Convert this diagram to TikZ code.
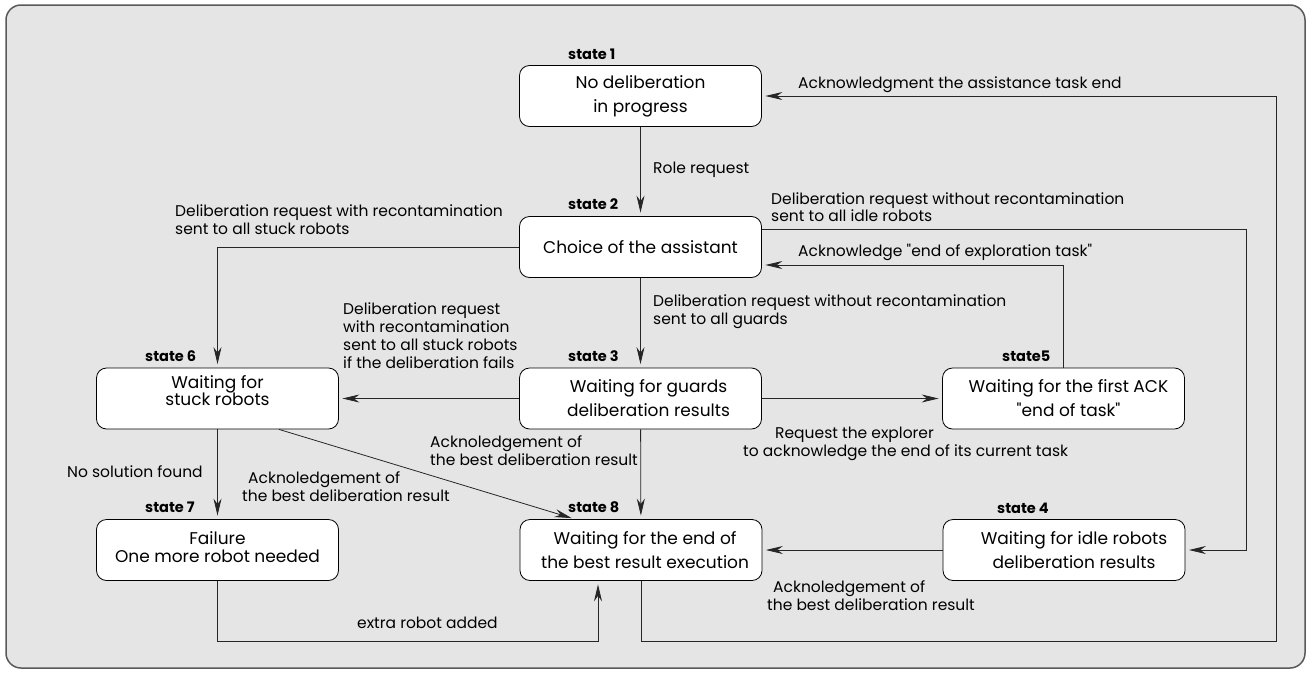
\documentclass[tikz,border=0pt]{standalone}
\usepackage{fontspec}
\setmainfont{Poppins}[Ligatures=TeXOff]
\usetikzlibrary{arrows.meta}
\newcommand{\myLbl}{\fontsize{15.5}{18}\selectfont}
\newcommand{\myLblTight}{\fontsize{15.5}{15}\selectfont}
\newcommand{\myBox}{\fontsize{17}{24}\selectfont}
\newcommand{\mySmallBox}{\fontsize{17}{17.5}\selectfont}
\newcommand{\myState}{\fontsize{14.5}{18}\selectfont\bfseries}
\tikzset{
  frame/.style={draw=black!65, line width=1.5pt, fill=black!10, rounded corners=15pt},
  stbox/.style={draw=black, fill=white, rounded corners=10pt, minimum width=242pt,
    minimum height=61pt, inner sep=0pt, align=center, line width=0.8pt, font=\myBox},
  lbl/.style={align=left, anchor=west, inner sep=0pt, font=\myLbl},
  stlbl/.style={anchor=west, inner sep=0pt, font=\myState},
  conn/.style={line width=0.8pt, draw=black!85},
  arr/.style={conn, -{Stealth[length=17pt,width=8pt]}, shorten >=3.5pt},
}
\begin{document}
\begin{tikzpicture}[x=1pt,y=-1pt]
\useasboundingbox (0,0) rectangle (1309,672);
\draw[frame] (6,5) rectangle (1305,668);

% states
\node[stbox] (s1) at (640.5,96) {No deliberation\\in progress};
\node[stbox] (s2) at (640.5,247) {Choice of the assistant};
\node[stbox] (s3) at (640.5,398.5) {\hspace*{16pt}Waiting for guards\\\hspace*{16pt}deliberation results};
\node[stbox] (s5) at (1063.5,398.5) {\hspace*{10pt}Waiting for the first ACK\\\hspace*{10pt}"end of task"};
\node[stbox, font=\mySmallBox, text depth=16pt] (s6) at (217.5,398.5) {Waiting for\\stuck robots};
\node[stbox, font=\mySmallBox, text depth=6pt] (s7) at (217.5,550) {Failure\\One more robot needed};
\node[stbox] (s8) at (641,550) {\hspace*{8pt}Waiting for the end of\\\hspace*{8pt}the best result execution};
\node[stbox] (s4) at (1064,550) {\hspace*{20pt}Waiting for idle robots\\\hspace*{20pt}deliberation results};

% state titles
\node[stlbl] (t1) at (568,54) {state 1};
\node[stlbl] (t2) at (568,204) {state 2};
\node[stlbl] (t3) at (568,356) {state 3};
\node[stlbl] (t8) at (568,507) {state 8};
\node[stlbl] (t6) at (145,356) {state 6};
\node[stlbl] (t7) at (145,507) {state 7};
\node[stlbl] (t5) at (1002,356) {state5};
\node[stlbl] (t4) at (997,508) {state 4};

% connectors
\draw[arr] (s1) -- (s2);
\draw[arr] (s2.west) -| (s6.north);
\draw[arr] ([yshift=18pt]s2.east) -- ++(484,0) |- (s4.east);
\draw[arr] (s5.north) |- ([yshift=-18pt]s2.east);
\draw[arr] (s2) -- (s3);
\draw[arr] (s3) -- (s6);
\draw[arr] (s3) -- (s5);
\draw[arr] (s3) -- (s8);
\draw[arr] ([xshift=61.5pt]s6.south) -- ([xshift=-66pt]s8.north);
\draw[arr] (s6) -- (s7);
\draw[arr] (s7.south) -- ++(0,60) -| ([xshift=-43pt]s8.south);
\draw[arr] (s8.south) -- ++(0,60) -- ++(635,0) |- (s1.east);
\draw[arr] (s4) -- (s8);

% connector labels
\node[lbl] (lrole) at (653,170) {Role request};
\node[lbl] (lstuck) at (175,220) {Deliberation request with recontamination\\sent to all stuck robots};
\node[lbl, font=\myLblTight] (lidle) at (771,207) {Deliberation request without recontamination\\sent to all idle robots};
\node[lbl] (lackexp) at (798,252) {Acknowledge "end of exploration task"};
\node[lbl] (lackend) at (798,85) {Acknowledgment the assistance task end};
\node[lbl] (lguards) at (653,312) {Deliberation request without recontamination\\sent to all guards};
\node[lbl] (lfail) at (343,336) {Deliberation request\\with recontamination\\sent to all stuck robots\\if the deliberation fails};
\node[lbl] (lreq) at (743,444) {\hspace*{32pt}Request the explorer\\to acknowledge the end of its current task};
\node[lbl] (lack3) at (430,450.5) {Acknoledgement of\\the best deliberation result};
\node[lbl] (lack6) at (242,486.5) {\hspace*{6pt}Acknoledgement of\\the best deliberation result};
\node[lbl] (lnosol) at (67,472) {No solution found};
\node[lbl] (lextra) at (357,623) {extra robot added};
\node[lbl] (lack4) at (767,596) {\hspace*{6pt}Acknoledgement of\\the best deliberation result};
\end{tikzpicture}
\end{document}
